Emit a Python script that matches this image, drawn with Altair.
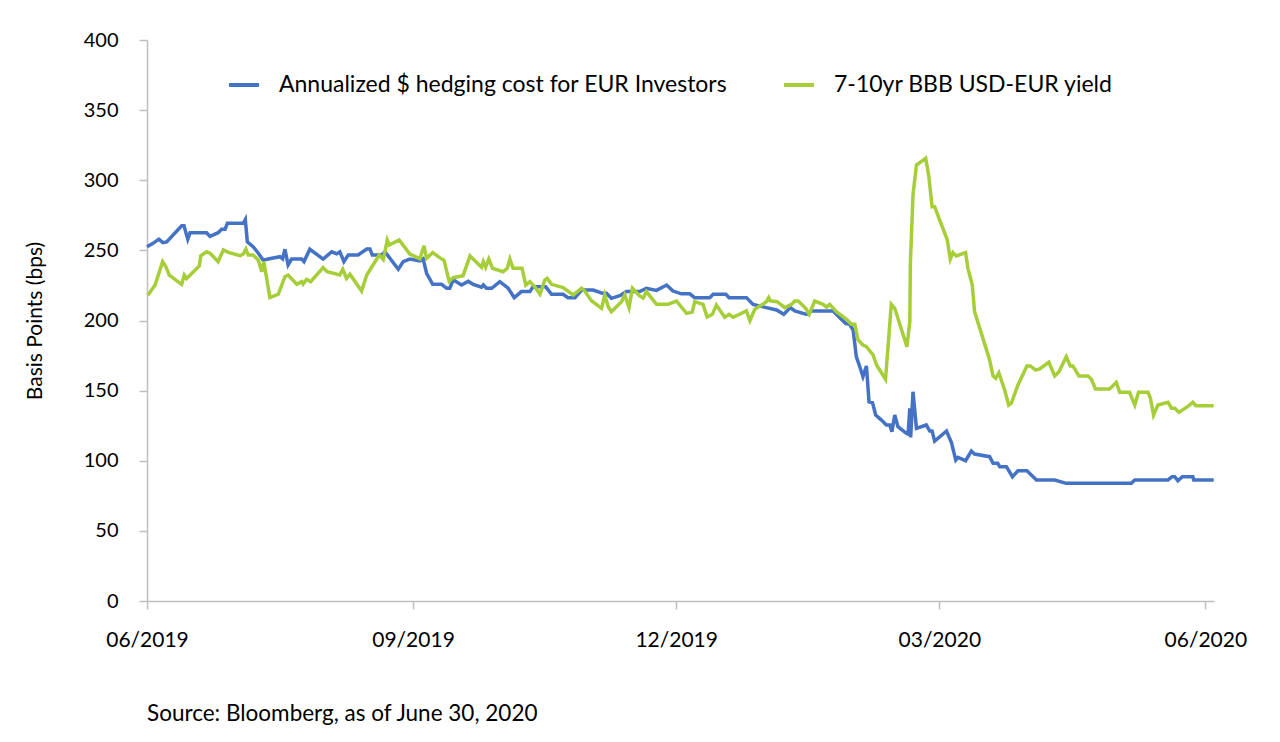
import altair as alt
import pandas as pd

BASE_DATE = "2019-06-28"

SERIES = ["Annualized $ hedging cost for EUR Investors", "7-10yr BBB USD-EUR yield"]
COLORS = ["#4472C4", "#A6CE39"]

# days after 2019-06-28, basis points
hedge_days = [0.0, 2.1, 4.1, 5.5, 6.8, 12.0, 12.8, 14.1, 14.9, 20.6, 21.8, 24.6, 25.8, 27.0, 27.8,
              33.3, 34.0, 34.7, 36.7, 38.5, 40.2, 41.9, 46.0, 46.9, 47.7, 48.8, 50.0, 53.5, 54.3,
              56.3, 60.9, 63.9, 65.6, 66.7, 68.1, 69.6, 73.0, 76.0, 77.1, 77.9, 81.1, 82.3, 86.9,
              88.6, 90.9, 94.4, 95.5, 96.7, 98.8, 101.9, 103.6, 104.7, 105.9, 108.8, 111.1, 112.8,
              115.7, 116.3, 117.4, 119.2, 122.0, 124.9, 127.0, 129.5, 132.4, 133.5, 137.9, 139.9,
              143.9, 145.6, 148.0, 150.3, 154.3, 157.5, 158.9, 160.6, 163.5, 165.8, 170.4, 172.7,
              176.2, 179.7, 181.9, 184.8, 187.7, 189.4, 194.6, 195.8, 200.2, 201.3, 207.3, 209.6,
              214.2, 217.7, 220.2, 222.5, 224.0, 228.1, 229.8, 237.3, 239.6, 241.6, 243.0, 244.2,
              245.3, 246.5, 247.6, 248.8, 249.7, 250.9, 252.0, 254.0, 255.7, 256.9, 257.6, 258.6,
              259.7, 262.6, 263.2, 263.8, 264.1, 264.9, 266.1, 269.5, 270.7, 271.5, 272.4, 276.5,
              278.2, 279.7, 280.5, 283.1, 285.1, 286.2, 291.4, 292.6, 294.2, 294.9, 297.2, 299.3,
              301.2, 304.3, 307.6, 313.9, 317.9, 340.4, 341.6, 353.1, 354.5, 355.4, 356.5, 358.1,
              361.7, 362.0, 368.9]
hedge_vals = [252.6, 255, 258, 255.5, 256, 267.6, 267.6, 258, 262.6, 262.6, 260, 262.6, 265, 265, 269.3,
              269.3, 272, 256, 252.6, 248, 243, 243.8, 245.5, 244, 250.8, 239.6, 243.8, 243.8, 242,
              250.8, 243.8, 249, 247.5, 249, 242, 246.7, 246.7, 251, 251, 246.7, 246.7, 249, 236.5,
              242, 243.8, 242.5, 244, 233.6, 225.8, 225.8, 223, 223, 229, 225.3, 228, 225.8,
              223.7, 225.3, 223, 223, 227.7, 223, 216.3, 220.6, 220.6, 224, 224, 218.7,
              218.7, 216.3, 216.3, 221.7, 221.7, 219.4, 219.4, 215.8, 217.7, 220.6, 220.6, 223,
              221.5, 225.3, 221, 219, 219, 216.3, 216.3, 218.7, 218.7, 216.3, 216.3, 211.5,
              209.2, 207.5, 204.4, 209.2, 206.8, 204.4, 206.8, 206.8, 202, 198, 197.3, 193.2,
              174.2, 167, 160, 167.6, 142, 141.4, 132.6, 129, 125.5, 125.5, 120.7, 132.6,
              124.3, 119.6, 119, 137.4, 116.7, 149.2, 123.1, 125.5, 121.2, 121.2, 114, 121.2,
              113, 100.5, 102.4, 100, 107, 104.8, 102.9, 98.2, 98.2, 95.8, 95.8, 88.6,
              92.9, 92.9, 86.3, 86.3, 83.9, 83.9, 86.3, 86.3, 88.6, 88.6, 85.8, 88.6,
              88.6, 86.3, 86.3]

yield_days = [0.3, 2.8, 5.4, 6.6, 7.7, 12.0, 12.9, 13.7, 18.1, 18.6, 20.6, 21.8, 24.6, 26.4, 28.1,
              32.2, 33.3, 34.2, 35.0, 36.7, 38.5, 39.7, 40.4, 42.5, 45.4, 47.7, 48.8, 51.8, 53.5,
              54.0, 55.2, 56.6, 60.9, 62.3, 66.7, 67.7, 69.0, 70.2, 74.2, 76.0, 80.3, 81.7, 83.1,
              83.8, 87.2, 90.9, 94.4, 95.8, 96.7, 98.8, 101.9, 102.7, 104.5, 105.9, 109.3, 111.7,
              115.7, 116.3, 117.1, 118.2, 119.5, 123.2, 124.6, 125.5, 126.6, 129.7, 131.0, 132.4,
              134.1, 135.9, 137.6, 138.4, 139.9, 143.9, 147.4, 150.3, 151.4, 153.7, 157.2, 158.3,
              159.5, 160.6, 164.1, 165.2, 166.7, 167.9, 170.4, 171.6, 172.7, 176.2, 180.2, 183.1,
              186.6, 188.6, 189.4, 192.3, 193.7, 195.5, 196.9, 199.8, 201.3, 202.7, 207.3, 208.5,
              210.2, 212.5, 214.2, 215.0, 215.6, 217.9, 220.6, 222.9, 224.0, 225.2, 227.8, 229.0,
              230.9, 233.8, 235.0, 236.1, 238.4, 241.9, 243.6, 244.8, 245.9, 247.6, 248.8, 251.1,
              252.3, 255.4, 257.4, 258.6, 262.8, 263.8, 264.0, 264.9, 266.1, 269.3, 270.4, 271.5,
              272.4, 274.1, 276.7, 277.8, 278.7, 279.9, 283.1, 283.9, 285.4, 286.2, 288.9, 291.4,
              292.6, 293.5, 294.6, 296.6, 298.0, 298.9, 301.2, 304.3, 305.5, 307.3, 308.7, 311.9,
              313.9, 315.4, 317.9, 319.3, 320.2, 322.3, 325.4, 326.6, 328.0, 332.9, 335.2, 336.4,
              339.8, 341.6, 342.9, 346.2, 347.0, 348.1, 349.6, 353.1, 354.3, 355.4, 356.9, 360.3,
              361.7, 362.7, 368.9]
yield_vals = [218, 225.3, 242, 238, 232.4, 225.8, 232.4, 230, 238.9, 246.2, 249, 248, 242, 250.3, 248.6,
              246.2, 247.4, 251, 246.7, 246.7, 243, 234.8, 242, 216.3, 218.7, 231.2, 232.4, 225.8, 227.7,
              226, 229.4, 227.7, 237.7, 234.8, 232.4, 236.5, 230, 233, 221, 232.4, 246.7, 243.5, 257.4,
              253.8, 257.4, 247.4, 244, 253.3, 244.3, 248.4, 243.8, 243, 228, 230.5, 232, 246,
              238, 242, 238, 243.8, 237.2, 234.8, 237.2, 243.8, 237.2, 237.2, 225.3, 227.7,
              224, 218.7, 229, 230, 225.8, 223.4, 218.2, 223, 221, 214.1, 208.7, 218.2,
              209.8, 206.3, 213.4, 218.2, 209.2, 223, 217.5, 216, 220.6, 211.5, 211.5, 213.9,
              205.1, 206, 213.4, 211.5, 202.5, 204.4, 211, 202.3, 204.4, 202.3, 206.8, 199.9,
              208, 211, 213.4, 216.3, 214, 213.4, 209.2, 211.5, 213.9, 213.9, 208.7, 204.4,
              213.9, 211.5, 209.5, 211.5, 206.3, 200.9, 197.3, 197.3, 186.1, 182.5, 181.3, 175.4,
              168.3, 158.1, 211.5, 208.7, 181.3, 199.2, 240.8, 289.5, 310.9, 315.6, 302.5, 281.1,
              281.1, 271.7, 257.9, 243.8, 248.4, 246, 248.4, 237.2, 225.3, 206.3, 188.5, 171.8,
              160.4, 158.8, 162.8, 150.4, 139.7, 141, 154, 167.6, 167.6, 164.7, 165.5, 170.2,
              160.4, 163.5, 174.2, 167.6, 167.6, 160.4, 160.4, 158.1, 151.2, 151.2, 155.9, 148.8,
              148.8, 139.7, 148.8, 148.8, 144.5, 132.6, 139.7, 141.7, 137.4, 137.4, 134.5, 139.3,
              141.7, 139.3, 139.3]

TICK_DATES = ["2019-06-28", "2019-09-28", "2019-12-28", "2020-03-28", "2020-06-28"]
Y_TICKS = [0, 50, 100, 150, 200, 250, 300, 350, 400]
SOURCE = "Source: Bloomberg, as of June 30, 2020"

base = pd.Timestamp(BASE_DATE)
frames = []
for name, days, vals in [(SERIES[0], hedge_days, hedge_vals), (SERIES[1], yield_days, yield_vals)]:
    frames.append(pd.DataFrame({
        "date": [(base + pd.to_timedelta(d, unit="D")).strftime("%Y-%m-%dT%H:%M:%S") for d in days],
        "value": vals,
        "series": name,
    }))
df = pd.concat(frames, ignore_index=True)

def dt(s):
    t = pd.Timestamp(s)
    return alt.DateTime(year=t.year, month=t.month, date=t.day, hours=t.hour)

FONT = "Lato"

chart = alt.Chart(df).mark_line(strokeWidth=3.5, interpolate="linear").encode(
    x=alt.X("date:T",
            scale=alt.Scale(domain=[dt("2019-06-28"), dt("2020-07-01")]),
            axis=alt.Axis(values=[dt(s) for s in TICK_DATES], format="%m/%Y", title=None,
                          grid=False, tickSize=8, labelPadding=20, labelFontSize=21,
                          labelFlush=False, labelColor="#000000", tickColor="#BFBFBF",
                          domainColor="#BFBFBF", domainWidth=1.5, tickWidth=1.5,
                          labelFont=FONT)),
    y=alt.Y("value:Q",
            scale=alt.Scale(domain=[0, 400], nice=False),
            axis=alt.Axis(values=Y_TICKS, title="Basis Points (bps)", grid=False, tickSize=8,
                          labelPadding=21, labelFontSize=20, labelColor="#000000",
                          tickColor="#BFBFBF", domainColor="#BFBFBF", domainWidth=1.5,
                          tickWidth=1.5, titleFontSize=21, titleFontWeight="normal",
                          titleColor="#000000", titlePadding=38, labelFont=FONT, titleFont=FONT)),
    color=alt.Color("series:N",
                    scale=alt.Scale(domain=SERIES, range=COLORS),
                    sort=SERIES,
                    legend=alt.Legend(title=None, orient="none", legendX=80, legendY=28,
                                      direction="horizontal", symbolType="stroke",
                                      symbolStrokeWidth=4, symbolSize=900, labelFontSize=23,
                                      labelFont=FONT, labelColor="#000000", labelOffset=18,
                                      columnPadding=48, labelLimit=700)),
    order=alt.Order("date:T"),
).properties(
    width=1067,
    height=561,
    autosize=alt.AutoSizeParams(type="none"),
    padding={"left": 139, "top": 32, "right": 58, "bottom": 134},
    title=alt.TitleParams(text=SOURCE, orient="bottom", anchor="start", frame="group",
                          offset=53, fontSize=22.5, fontWeight="normal", font=FONT,
                          color="#000000"),
).configure_view(stroke=None)

chart.save("out.html", embed_options={"renderer": "svg", "actions": False})
